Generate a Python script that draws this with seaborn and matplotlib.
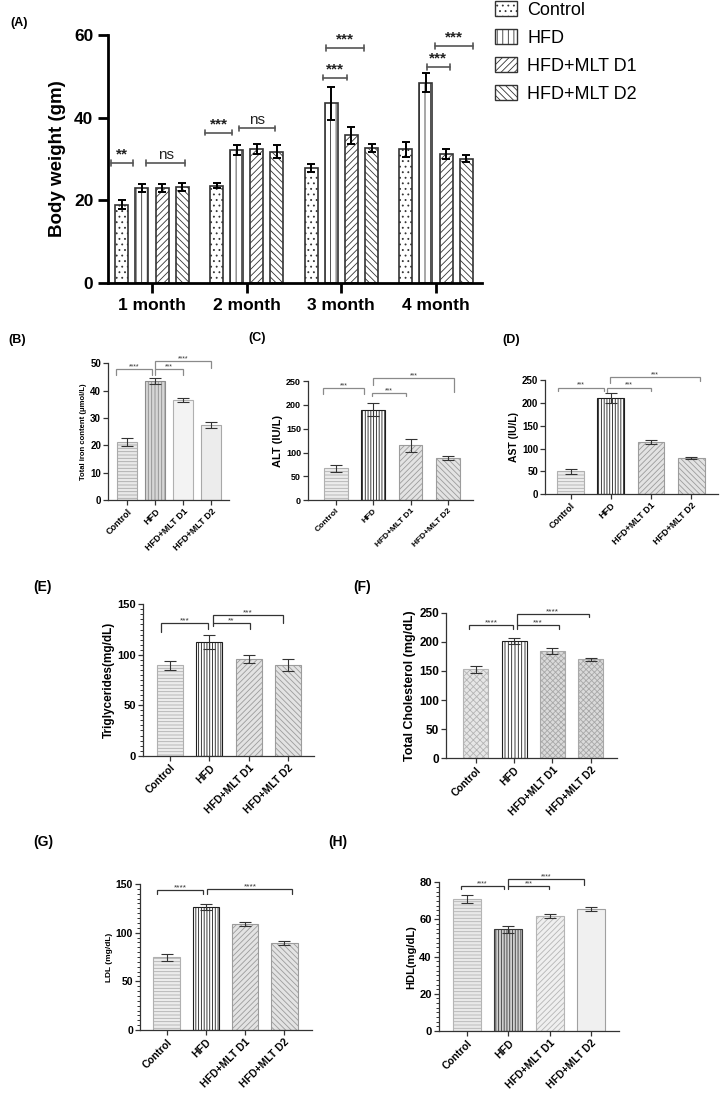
import numpy as np
import pandas as pd
import seaborn as sns
import matplotlib.pyplot as plt
from matplotlib.patches import Patch
from matplotlib.ticker import MultipleLocator

groups = ["Control", "HFD", "HFD+MLT D1", "HFD+MLT D2"]
months = ["1 month", "2 month", "3 month", "4 month"]

# (A) body weight per month, mean and SEM
bw_control = [18.9, 23.5, 27.9, 32.4]
bw_hfd = [22.9, 32.1, 43.5, 48.5]
bw_d1 = [23.0, 32.4, 35.7, 31.2]
bw_d2 = [23.3, 31.8, 32.7, 30.1]
bw_control_err = [1.1, 0.6, 1.0, 1.8]
bw_hfd_err = [1.0, 1.2, 4.0, 2.2]
bw_d1_err = [1.0, 1.2, 2.0, 1.1]
bw_d2_err = [1.0, 1.6, 0.9, 0.8]

# significance brackets for (A): x1, x2, y, label
sig_a = [(-0.433, -0.197, 29.0, "**"), (-0.063, 0.349, 29.0, "ns"),
         (0.564, 0.845, 36.4, "***"), (0.92, 1.30, 37.4, "ns"),
         (1.81, 2.06, 49.7, "***"), (1.84, 2.24, 56.9, "***"),
         (2.90, 3.15, 52.3, "***"), (2.99, 3.394, 57.4, "***")]

# (B)-(H) serum values, mean and SEM
iron = [21.1, 43.6, 36.7, 27.5]
iron_err = [1.5, 1.0, 0.7, 1.0]
alt = [67, 190, 115, 88]
alt_err = [7, 13, 13, 4]
ast = [50, 211, 114, 79]
ast_err = [6, 11, 5, 3]
tg = [89.5, 112.5, 95.5, 90]
tg_err = [4.6, 7.1, 4.0, 5.8]
tc = [152.7, 202, 184, 170]
tc_err = [6, 5, 5, 3]
ldl = [74.7, 126, 108.6, 89]
ldl_err = [3.5, 3, 2, 2]
hdl = [70.9, 54.7, 61.7, 65.5]
hdl_err = [2.2, 1.8, 1.0, 1.0]

# brackets: x1, x2, y, left leg end, right leg end, label
sig_b = [(-0.39, 0.88, 47.8, 45.7, 45.7, "****"), (1.0, 1.99, 47.8, 45.7, 45.7, "***"),
         (1.0, 2.99, 50.8, 47.8, 48.2, "****")]
sig_c = [(-0.34, 0.77, 235, 223, 223, "***"), (0.97, 1.87, 225.6, 218.6, 218.6, "***"),
         (1.0, 3.16, 257, 241.7, 227.7, "***")]
sig_d = [(-0.32, 0.83, 234, 227, 227, "***"), (0.9, 1.995, 234, 225, 227, "***"),
         (0.98, 3.22, 256.6, 243, 249, "***")]
sig_e = [(-0.23, 0.975, 131.2, 122.9, 125.3, "***"), (1.086, 2.04, 131.5, 128.5, 125.3, "**"),
         (1.086, 2.88, 139.4, 131.8, 131.8, "***")]
sig_f = [(-0.17, 0.966, 228.4, 222.2, 222.2, "****"), (1.07, 2.17, 228.4, 222.2, 222.2, "***"),
         (1.07, 2.95, 247.2, 228.4, 242, "****")]
sig_g = [(-0.255, 0.93, 144.2, 139.7, 139.7, "****"), (1.036, 3.21, 144.5, 139.7, 139.7, "****")]
sig_h = [(-0.145, 0.90, 78.0, 76.2, 76.2, "****"), (1.0, 1.97, 78.0, 76.2, 76.2, "***"),
         (1.0, 2.82, 81.8, 78.0, 78.6, "****")]

W, H = 720, 1097


def px_axes(fig, left, top, right, bottom):
    return fig.add_axes([left / W, 1 - bottom / H, (right - left) / W, (bottom - top) / H])


def draw_small(ax, values, errors, sig, cfg):
    df = pd.DataFrame({"group": groups, "value": values})
    sns.barplot(data=df, x="group", y="value", hue="group", order=groups,
                hue_order=groups, palette=[s[0] for s in cfg["styles"]],
                saturation=1, width=cfg["width"], errorbar=None, legend=False, ax=ax)
    bars = list(ax.patches)
    for bar, (fc, hatch, ec) in zip(bars, cfg["styles"]):
        bar.set_hatch(hatch)
        bar.set_edgecolor(ec)
        bar.set_linewidth(0.8)
    xs = [b.get_x() + b.get_width() / 2 for b in bars]
    ax.errorbar(xs, values, yerr=errors, fmt="none", ecolor="#333333",
                elinewidth=0.8, capsize=4, capthick=0.8)

    for x1, x2, y, yl, yr, lab in sig:
        ax.plot([x1, x1, x2, x2], [yl, y, y, yr], color=cfg["bcolor"], lw=0.9,
                clip_on=False, solid_joinstyle="miter")
        ax.annotate(lab, ((x1 + x2) / 2, y), xytext=(0, 0.5), textcoords="offset points",
                    ha="center", va="baseline", fontsize=cfg["fs_star"],
                    color="#333333", annotation_clip=False)

    ax.set_xlim(*cfg["xlim"])
    ax.set_ylim(0, cfg["ymax"])
    ax.yaxis.set_major_locator(MultipleLocator(cfg["ystep"]))
    if cfg.get("minor"):
        ax.yaxis.set_minor_locator(MultipleLocator(cfg["minor"]))
        ax.tick_params(axis="y", which="minor", length=2, width=0.7, color="#333333")
    ax.set_xlabel("")
    ax.set_ylabel(cfg["ylabel"], fontsize=cfg["fs_lab"], fontweight="bold", labelpad=2)
    ax.tick_params(axis="both", which="major", length=3.5, width=0.9, color="#333333", pad=1.5)
    ax.tick_params(axis="y", labelsize=cfg["fs_tick"])
    ax.tick_params(axis="x", labelsize=cfg["fs_xtick"])
    ax.set_xticks(range(4))
    ax.set_xticklabels(groups, rotation=45, ha="right", rotation_mode="anchor")
    for lab in ax.get_xticklabels() + ax.get_yticklabels():
        lab.set_fontweight("bold")
    for side in ["top", "right"]:
        ax.spines[side].set_visible(False)
    for side in ["left", "bottom"]:
        ax.spines[side].set_linewidth(0.9)
        ax.spines[side].set_color("#333333")


def main():
    sns.set_style("ticks")
    plt.rcParams["font.family"] = ["Liberation Sans", "DejaVu Sans"]
    plt.rcParams["hatch.linewidth"] = 0.6
    for key in ["text.color", "axes.labelcolor", "xtick.labelcolor", "ytick.labelcolor"]:
        plt.rcParams[key] = "black"

    fig = plt.figure(figsize=(W / 100, H / 100), dpi=100)

    # ---- (A) body weight ----
    ax = px_axes(fig, 108, 35, 482, 283)
    rows = []
    for g, vals in zip(groups, [bw_control, bw_hfd, bw_d1, bw_d2]):
        for m, v in zip(months, vals):
            rows.append({"month": m, "group": g, "weight": v})
    df_a = pd.DataFrame(rows)
    sns.barplot(data=df_a, x="month", y="weight", hue="group", order=months,
                hue_order=groups, palette=["white"] * 4, saturation=1,
                width=0.85, gap=0.35, errorbar=None, legend=False, ax=ax)
    hatches_a = ["...", "|||", "/////", "\\\\\\\\\\"]
    errs_a = [bw_control_err, bw_hfd_err, bw_d1_err, bw_d2_err]
    bar_conts = list(ax.containers)
    for cont, hatch, errs in zip(bar_conts, hatches_a, errs_a):
        for bar in cont:
            bar.set_hatch(hatch)
            bar.set_edgecolor("#333333")
            bar.set_linewidth(1.2)
        xs = [b.get_x() + b.get_width() / 2 for b in cont]
        ys = [b.get_height() for b in cont]
        ax.errorbar(xs, ys, yerr=errs, fmt="none", ecolor="black",
                    elinewidth=1.4, capsize=3, capthick=1.4)

    for x1, x2, y, lab in sig_a:
        ax.plot([x1, x2], [y, y], color="#555555", lw=1.2, clip_on=False)
        ax.plot([x1, x1], [y - 0.7, y + 0.7], color="#555555", lw=1.2, clip_on=False)
        ax.plot([x2, x2], [y - 0.7, y + 0.7], color="#555555", lw=1.2, clip_on=False)
        ax.annotate(lab, ((x1 + x2) / 2, y), xytext=(0, 3), textcoords="offset points",
                    ha="center", va="baseline", fontsize=11,
                    fontweight="bold" if lab != "ns" else "normal",
                    color="#222222", annotation_clip=False)

    ax.set_xlim(-0.465, 3.486)
    ax.set_ylim(0, 60)
    ax.set_yticks([0, 20, 40, 60])
    ax.set_xlabel("")
    ax.set_ylabel("Body weight (gm)", fontsize=13.5, fontweight="bold", labelpad=6)
    ax.tick_params(axis="both", length=7, width=2, labelsize=12.5, color="black")
    for lab in ax.get_xticklabels() + ax.get_yticklabels():
        lab.set_fontweight("bold")
    for side in ["top", "right"]:
        ax.spines[side].set_visible(False)
    for side in ["left", "bottom"]:
        ax.spines[side].set_linewidth(2)
        ax.spines[side].set_color("black")

    handles = [Patch(facecolor="white", edgecolor="#333333", hatch=h, linewidth=1)
               for h in hatches_a]
    fig.legend(handles, groups, loc="upper left", bbox_to_anchor=(494 / W, 1.0),
               frameon=False, fontsize=13, handlelength=1.2, handleheight=0.95,
               handletextpad=0.6, labelspacing=0.55, borderaxespad=0, borderpad=0.05)

    # ---- (B)-(H) ----
    light = [("#ececec", "-----", "#b0b0b0"), ("#ffffff", "||||||", "#1e1e1e"),
             ("#e3e3e3", "//////", "#9c9c9c"), ("#e3e3e3", "\\\\\\\\\\\\", "#9c9c9c")]
    panels = [
        (px_axes(fig, 108, 363.3, 229, 500), iron, iron_err, sig_b,
         dict(styles=[("#e9e9e9", "-----", "#aaaaaa"), ("#d6d6d6", "|||||", "#8c8c8c"),
                      ("#f3f3f3", "", "#b0b0b0"), ("#ececec", "", "#a8a8a8")],
              width=0.71, xlim=(-0.68, 3.64), ymax=50, ystep=10, minor=None,
              ylabel="Total iron content (μmol/L)", fs_lab=5.5, fs_tick=7,
              fs_xtick=6.5, fs_star=5, bcolor="#8a8a8a")),
        (px_axes(fig, 308, 381, 473, 500.3), alt, alt_err, sig_c,
         dict(styles=light, width=0.64, xlim=(-0.74, 3.67), ymax=250, ystep=50,
              minor=None, ylabel="ALT (IU/L)", fs_lab=8, fs_tick=6.5,
              fs_xtick=6, fs_star=5, bcolor="#8a8a8a")),
        (px_axes(fig, 545, 380.3, 718, 494), ast, ast_err, sig_d,
         dict(styles=light, width=0.67, xlim=(-0.64, 3.67), ymax=250, ystep=50,
              minor=None, ylabel="AST (IU/L)", fs_lab=7.5, fs_tick=7,
              fs_xtick=6.5, fs_star=5, bcolor="#8a8a8a")),
        (px_axes(fig, 143, 604.3, 314, 755.7), tg, tg_err, sig_e,
         dict(styles=light, width=0.66, xlim=(-0.69, 3.66), ymax=150, ystep=50,
              minor=5, ylabel="Triglycerides(mg/dL)", fs_lab=8.5, fs_tick=8,
              fs_xtick=7.5, fs_star=6, bcolor="#333333")),
        (px_axes(fig, 446, 612.7, 616.7, 758.3), tc, tc_err, sig_f,
         dict(styles=[("#e6e6e6", "xxxxx", "#b4b4b4"), ("#ffffff", "|||||", "#1e1e1e"),
                      ("#dadada", "xxxxxx", "#a8a8a8"), ("#dadada", "xxxxxx", "#a8a8a8")],
              width=0.65, xlim=(-0.78, 3.68), ymax=250, ystep=50, minor=None,
              ylabel="Total Cholesterol (mg/dL)", fs_lab=9, fs_tick=8.5,
              fs_xtick=7.5, fs_star=6, bcolor="#333333")),
        (px_axes(fig, 140, 884, 311.7, 1030), ldl, ldl_err, sig_g,
         dict(styles=light, width=0.68, xlim=(-0.68, 3.70), ymax=150, ystep=50,
              minor=5, ylabel="LDL (mg/dL)", fs_lab=6, fs_tick=7.5,
              fs_xtick=7.5, fs_star=6, bcolor="#333333")),
        (px_axes(fig, 438.7, 882.3, 619, 1031), hdl, hdl_err, sig_h,
         dict(styles=[("#e9e9e9", "-----", "#b5b5b5"), ("#cfcfcf", "||||||", "#3a3a3a"),
                      ("#efefef", "//////", "#b5b5b5"), ("#f0f0f0", "", "#a0a0a0")],
              width=0.68, xlim=(-0.68, 3.67), ymax=80, ystep=20, minor=2.5,
              ylabel="HDL(mg/dL)", fs_lab=8, fs_tick=8, fs_xtick=7.5,
              fs_star=5, bcolor="#333333")),
    ]
    for ax_p, vals, errs, sig, cfg in panels:
        draw_small(ax_p, vals, errs, sig, cfg)

    letters = [("(A)", 10, 23, 9), ("(B)", 8, 340, 9), ("(C)", 248, 338, 9),
               ("(D)", 502, 340, 9), ("(E)", 33, 587, 10), ("(F)", 353, 587, 10),
               ("(G)", 33, 842, 10), ("(H)", 328, 842, 10)]
    for txt, x, y, fs in letters:
        fig.text(x / W, 1 - y / H, txt, fontsize=fs, fontweight="bold",
                 ha="left", va="center", color="black")

    fig.savefig("out.png", dpi=100)


if __name__ == "__main__":
    main()
